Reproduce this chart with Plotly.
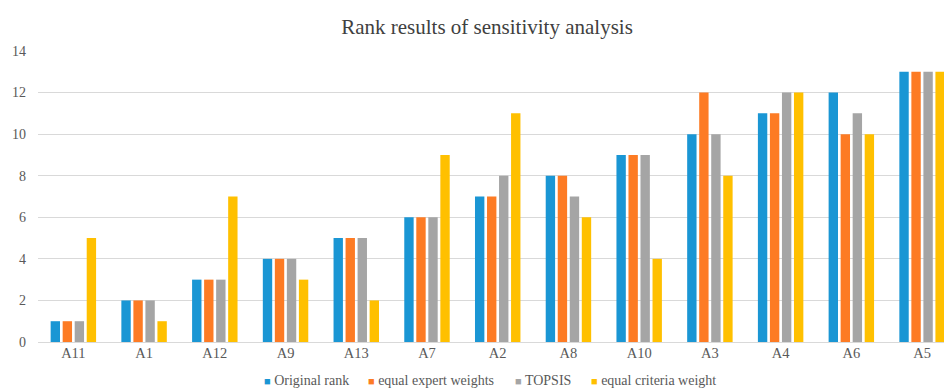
import plotly.graph_objects as go

categories = ["A11", "A1", "A12", "A9", "A13", "A7", "A2", "A8", "A10", "A3", "A4", "A6", "A5"]
original_rank = [1, 2, 3, 4, 5, 6, 7, 8, 9, 10, 11, 12, 13]
equal_expert_weights = [1, 2, 3, 4, 5, 6, 7, 8, 9, 12, 11, 10, 13]
topsis = [1, 2, 3, 4, 5, 6, 8, 7, 9, 10, 12, 11, 13]
equal_criteria_weight = [5, 1, 7, 3, 2, 9, 11, 6, 4, 8, 12, 10, 13]

series_names = ["Original rank", "equal expert weights", "TOPSIS", "equal criteria weight"]
series_values = [original_rank, equal_expert_weights, topsis, equal_criteria_weight]
series_colors = ["#1a96d4", "#fd7b24", "#a5a5a5", "#ffc000"]

W, H = 944, 389
L, R, T, B = 38, 0, 51, 47
PW, PH = W - L - R, H - T - B

fig = go.Figure()
for name, vals, color in zip(series_names, series_values, series_colors):
    fig.add_trace(go.Bar(x=categories, y=vals, name=name, marker_color=color,
                         marker_line_width=0, showlegend=False))

font_family = "Liberation Serif, Times New Roman, serif"

# custom legend (small square keys like the reference)
legend_x = [262, 366, 513, 589]
for name, color, px in zip(series_names, series_colors, legend_x):
    fig.add_annotation(
        text=f"<span style='color:{color};font-size:11px'>■</span> {name}",
        xref="paper", yref="paper", x=(px - L) / PW, y=(H - B - 380) / PH,
        xanchor="left", yanchor="middle", showarrow=False,
        font=dict(family=font_family, size=14, color="#595959"))

fig.update_layout(
    width=W, height=H,
    paper_bgcolor="white", plot_bgcolor="white",
    margin=dict(l=L, r=R, t=T, b=B, autoexpand=False),
    barmode="group", bargap=0.32, bargroupgap=0.22,
    font=dict(family=font_family, size=14, color="#595959"),
    title=dict(text="Rank results of sensitivity analysis", x=487 / W, xref="container",
               xanchor="center", y=1 - 27 / H, yanchor="middle",
               font=dict(family=font_family, size=21, color="#404040")),
    xaxis=dict(range=[-0.5, 12.31], showgrid=False, showline=False, ticks="",
               tickfont=dict(size=14.5), automargin=False),
    yaxis=dict(range=[0, 14], dtick=2, showgrid=True, gridcolor="#d9d9d9", gridwidth=1,
               zeroline=True, zerolinecolor="#d9d9d9", zerolinewidth=1,
               showline=False, ticks="", tickfont=dict(size=14), ticklabelstandoff=11,
               automargin=False),
    showlegend=False,
)

fig.write_html("out.html", post_script="document.body.style.margin='0';",
               config={"displayModeBar": False})
